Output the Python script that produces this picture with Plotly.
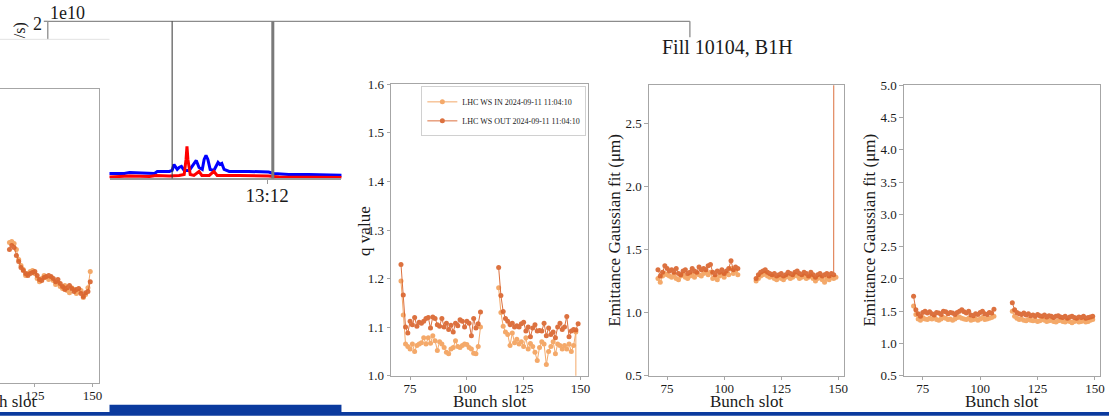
import pandas as pd
import plotly.graph_objects as go

W, H = 1114, 420
FONT = "Liberation Serif"
TXT = "#1a1a1a"
SPINE = "#a6a6a6"
C_IN = "#f3a05a"
C_OUT = "#d9622b"

# ---------------- data ----------------
slots_train1 = list(range(71, 107))
slots_train2 = list(range(114, 150))

q_in_t1 = [1.195, 1.125, 1.065, 1.060, 1.055, 1.065, 1.050, 1.062, 1.065, 1.068, 1.078, 1.065,
           1.078, 1.067, 1.082, 1.072, 1.052, 1.070, 1.065, 1.058, 1.048, 1.045, 1.055, 1.058,
           1.072, 1.060, 1.058, 1.062, 1.065, 1.064, 1.058, 1.055, 1.046, 1.045, 1.060, 1.100]
q_in_t2 = [1.181, 1.130, 1.102, 1.090, 1.085, 1.062, 1.088, 1.068, 1.075, 1.065, 1.070, 1.060,
           1.078, 1.055, 1.066, 1.060, 1.048, 1.031, 1.058, 1.070, 1.065, 1.023, 1.050, 1.060,
           1.070, 1.045, 1.065, 1.062, 1.055, 1.062, 1.055, 1.065, 1.050, 1.062, 1.090, -20.0]
q_out_t1 = [1.229, 1.166, 1.100, 1.088, 1.112, 1.105, 1.120, 1.102, 1.110, 1.108, 1.112, 1.118,
            1.120, 1.098, 1.121, 1.118, 1.105, 1.102, 1.118, 1.100, 1.108, 1.095, 1.104, 1.090,
            1.108, 1.103, 1.115, 1.112, 1.100, 1.112, 1.108, 1.082, 1.118, 1.098, 1.107, 1.131]
q_out_t2 = [1.223, 1.165, 1.132, 1.118, 1.112, 1.105, 1.108, 1.100, 1.103, 1.100, 1.107, 1.110,
            1.092, 1.100, 1.080, 1.098, 1.105, 1.092, 1.093, 1.092, 1.108, 1.082, 1.098, 1.085,
            1.090, 1.078, 1.100, 1.108, 1.095, 1.100, 1.122, 1.080, 1.092, 1.095, 1.094, 1.107]

emit_h_in_t1 = [1.27, 1.24, 1.29, 1.31, 1.30, 1.29, 1.28, 1.30, 1.27, 1.26, 1.29, 1.30,
                1.28, 1.27, 1.29, 1.30, 1.28, 1.31, 1.30, 1.29, 1.31, 1.32, 1.30, 1.32,
                1.27, 1.28, 1.26, 1.29, 1.30, 1.28, 1.31, 1.30, 1.35, 1.31, 1.33, 1.30]
emit_h_in_t2 = [1.25, 1.27, 1.29, 1.30, 1.31, 1.29, 1.28, 1.29, 1.27, 1.26, 1.28, 1.27,
                1.26, 1.28, 1.29, 1.27, 1.28, 1.30, 1.29, 1.27, 1.28, 1.29, 1.27, 1.28,
                1.29, 1.27, 1.25, 1.27, 1.28, 1.26, 1.24, 1.27, 1.26, 1.28, 1.27, 1.28]
emit_h_out_t1 = [1.34, 1.29, 1.32, 1.37, 1.35, 1.33, 1.34, 1.32, 1.35, 1.31, 1.30, 1.33,
                 1.34, 1.31, 1.32, 1.35, 1.33, 1.32, 1.36, 1.34, 1.35, 1.34, 1.37, 1.38,
                 1.32, 1.30, 1.33, 1.32, 1.34, 1.31, 1.33, 1.35, 1.41, 1.34, 1.36, 1.35]
emit_h_out_t2 = [1.27, 1.30, 1.32, 1.33, 1.34, 1.32, 1.31, 1.30, 1.31, 1.29, 1.30, 1.31,
                 1.29, 1.30, 1.32, 1.31, 1.30, 1.32, 1.33, 1.31, 1.30, 1.32, 1.31, 1.29,
                 1.32, 1.30, 1.28, 1.30, 1.31, 1.29, 1.30, 1.31, 1.29, 1.31, 1.30, 60.0]

emit_b_in_t1 = [1.58, 1.45, 1.38, 1.36, 1.40, 1.38, 1.37, 1.39, 1.38, 1.40, 1.37, 1.36,
                1.38, 1.40, 1.39, 1.37, 1.38, 1.36, 1.38, 1.40, 1.41, 1.39, 1.38, 1.37,
                1.39, 1.36, 1.37, 1.38, 1.36, 1.38, 1.40, 1.37, 1.38, 1.39, 1.40, 1.42]
emit_b_in_t2 = [1.50, 1.42, 1.39, 1.37, 1.38, 1.36, 1.35, 1.37, 1.36, 1.35, 1.36, 1.34,
                1.35, 1.37, 1.36, 1.34, 1.35, 1.36, 1.34, 1.33, 1.35, 1.36, 1.34, 1.33,
                1.35, 1.34, 1.32, 1.34, 1.35, 1.33, 1.34, 1.35, 1.33, 1.34, 1.36, 1.37]
emit_b_out_t1 = [1.73, 1.52, 1.46, 1.42, 1.48, 1.50, 1.47, 1.49, 1.46, 1.44, 1.48, 1.47,
                 1.45, 1.50, 1.49, 1.46, 1.48, 1.47, 1.45, 1.48, 1.50, 1.52, 1.49, 1.47,
                 1.50, 1.44, 1.43, 1.46, 1.45, 1.48, 1.50, 1.46, 1.45, 1.48, 1.47, 1.53]
emit_b_out_t2 = [1.63, 1.52, 1.48, 1.46, 1.45, 1.47, 1.44, 1.46, 1.43, 1.44, 1.42, 1.45,
                 1.43, 1.42, 1.44, 1.41, 1.43, 1.42, 1.40, 1.42, 1.43, 1.41, 1.40, 1.42,
                 1.39, 1.41, 1.42, 1.40, 1.39, 1.41, 1.40, 1.42, 1.39, 1.40, 1.41, 1.42]

# left (cropped) panel: only the second train is visible
left_in_t2 = [1.456, 1.462, 1.449, 1.408, 1.340, 1.299, 1.271, 1.230, 1.244, 1.258, 1.265, 1.244,
              1.210, 1.189, 1.210, 1.230, 1.217, 1.203, 1.217, 1.196, 1.169, 1.183, 1.155, 1.142,
              1.162, 1.128, 1.114, 1.148, 1.135, 1.108, 1.121, 1.128, 1.080, 1.101, 1.148, 1.258]
left_out_t2 = [1.408, 1.435, 1.421, 1.367, 1.326, 1.285, 1.265, 1.244, 1.230, 1.244, 1.251, 1.258,
               1.230, 1.203, 1.196, 1.217, 1.224, 1.230, 1.224, 1.210, 1.189, 1.203, 1.176, 1.155,
               1.135, 1.148, 1.162, 1.142, 1.121, 1.135, 1.142, 1.108, 1.087, 1.114, 1.121, 1.189]

# timeline (minutes after 12:38 on 2024-09-11), rate in p/s
t0 = pd.Timestamp("2024-09-11 12:38:00")
blue_min = [-1, 0, 3.2, 4.3, 6.4, 8.6, 9.7, 10.3, 12.9, 13.5, 13.9, 14.6, 15.0, 15.5, 16.1, 17.2,
            18.0, 18.7, 19.3, 20.0, 20.4, 20.8, 21.2, 21.7, 22.5, 23.0, 23.4, 23.8, 24.2, 24.7,
            25.8, 30.0, 34.3, 35.4, 38.6, 42.9, 47.2, 50.0, 51]
blue_val = [6.4e8, 6.4e8, 6.4e8, 7.6e8, 7.0e8, 6.4e8, 6.4e8, 8.9e8, 8.9e8, 1.02e9, 1.78e9, 1.15e9,
            1.40e9, 1.53e9, 1.02e9, 1.02e9, 1.66e9, 2.29e9, 1.40e9, 1.15e9, 2.42e9, 2.93e9, 2.42e9,
            1.15e9, 1.02e9, 1.66e9, 2.04e9, 1.78e9, 1.91e9, 1.15e9, 8.9e8, 8.9e8, 8.3e8, 6.4e8,
            5.1e8, 5.1e8, 4.5e8, 3.8e8, 3.8e8]
red_min = [-1, 0, 4.3, 8.6, 10.1, 12.9, 15.0, 16.1, 16.5, 16.7, 16.9, 17.4, 18.2, 19.3, 19.9,
           21.5, 22.5, 23.2, 27.9, 34.3, 36.5, 42.9, 50.0, 51]
red_val = [1.9e8, 1.9e8, 3.2e8, 2.5e8, 3.8e8, 3.2e8, 3.8e8, 5.1e8, 2.42e9, 4.08e9, 2.42e9, 5.1e8,
           3.8e8, 8.9e8, 3.8e8, 3.8e8, 8.9e8, 3.8e8, 3.8e8, 3.2e8, 1.9e8, 1.3e8, 1.3e8, 1.3e8]
marker_times = ["2024-09-11 12:51:30", "2024-09-11 13:13:12"]
time_range = ["2024-09-11 12:38:00", "2024-09-11 13:28:00"]
time_tick = "2024-09-11 13:12:00"

legend_in = "LHC WS IN 2024-09-11 11:04:10"
legend_out = "LHC WS OUT 2024-09-11 11:04:10"

# ---------------- helpers ----------------
def px(x):
    return x / W

def py(y):
    # target pixel row -> paper fraction (the page is captured with a small vertical border)
    return 1 - (y * 436.0 / 420.0 - 8.0) / H

def join(a, b):
    return a + [None] + b

x_all = join(slots_train1, slots_train2)

fig = go.Figure()

def add_pair(xv, yin, yout, xa, ya, legend=False):
    for yv, name, col in ((yin, legend_in, C_IN), (yout, legend_out, C_OUT)):
        fig.add_trace(go.Scatter(x=xv, y=yv, name=name, showlegend=legend, mode="lines+markers",
                                 xaxis=xa, yaxis=ya, line=dict(color=col, width=1),
                                 marker=dict(color=col, size=5, symbol="circle"),
                                 connectgaps=False, opacity=0.9))

# left cropped panel
add_pair(slots_train2, left_in_t2, left_out_t2, "x", "y")
# timeline
blue_t = [t0 + pd.Timedelta(minutes=m) for m in blue_min]
red_t = [t0 + pd.Timedelta(minutes=m) for m in red_min]
fig.add_trace(go.Scatter(x=blue_t, y=blue_val, mode="lines", line=dict(color="#0000ff", width=3),
                         xaxis="x2", yaxis="y2", showlegend=False))
fig.add_trace(go.Scatter(x=red_t, y=red_val, mode="lines", line=dict(color="#ff0000", width=3),
                         xaxis="x2", yaxis="y2", showlegend=False))
# q value
add_pair(x_all, join(q_in_t1, q_in_t2), join(q_out_t1, q_out_t2), "x3", "y3", legend=True)
# emittance H
add_pair(x_all, join(emit_h_in_t1, emit_h_in_t2), join(emit_h_out_t1, emit_h_out_t2), "x4", "y4")
# emittance (second)
add_pair(x_all, join(emit_b_in_t1, emit_b_in_t2), join(emit_b_out_t1, emit_b_out_t2), "x5", "y5")

tickfont = dict(family=FONT, size=13, color=TXT)
base_ax = dict(showgrid=False, zeroline=False, showline=True, linecolor=SPINE, linewidth=1.2,
               ticks="outside", ticklen=3.5, tickwidth=1, tickcolor=SPINE, tickfont=tickfont)

def panel_axes(n, xdom, ydom, xr, yr, ydtick):
    xa = dict(base_ax, domain=[px(xdom[0]), px(xdom[1])], range=xr, tickvals=[75, 100, 125, 150],
              mirror=True, anchor="y%d" % n, ticklabelstandoff=-3)
    ya = dict(base_ax, domain=[py(ydom[1]), py(ydom[0])], range=yr, dtick=ydtick, tick0=0,
              tickformat=".1f", mirror=True, anchor="x%d" % n)
    return xa, ya

xa3, ya3 = panel_axes(3, (393, 591), (85, 376), [66.7, 153.5], [1.0, 1.6], 0.1)
xa4, ya4 = panel_axes(4, (652, 848), (86, 376), [67.1, 152.6], [0.5, 2.8], 0.5)
xa5, ya5 = panel_axes(5, (908, 1105), (86, 376), [66.8, 152.2], [0.5, 5.0], 0.5)

xa1 = dict(base_ax, domain=[0, px(99)], range=[109.9, 152.6], tickvals=[75, 100, 125, 150],
           mirror=True, anchor="y", ticklabelstandoff=-3)
ya1 = dict(showgrid=False, zeroline=False, showline=True, linecolor=SPINE, linewidth=1.2,
           side="right", showticklabels=False, ticks="", domain=[py(383), py(90)], range=[0.5, 2.5],
           anchor="x")

xa2 = dict(type="date", domain=[px(110), px(343)], range=time_range, showgrid=False, zeroline=False,
           showline=True, linecolor="#9a9a9a", linewidth=1.5, ticks="outside", ticklen=4,
           tickcolor="#9a9a9a", tickvals=[time_tick], ticktext=["13:12"], ticklabelstandoff=-5,
           tickfont=dict(family=FONT, size=19, color=TXT), anchor="y2")
ya2 = dict(domain=[py(179), py(22)], range=[0, 2e10], visible=False, anchor="x2")

fig.update_layout(
    width=W, height=H, margin=dict(l=0, r=0, t=0, b=0),
    paper_bgcolor="white", plot_bgcolor="white",
    font=dict(family=FONT, color=TXT),
    xaxis=xa1, yaxis=ya1, xaxis2=xa2, yaxis2=ya2,
    xaxis3=xa3, yaxis3=ya3, xaxis4=xa4, yaxis4=ya4, xaxis5=xa5, yaxis5=ya5,
    legend=dict(x=px(589), xanchor="right", y=py(87), yanchor="top", bgcolor="white",
                bordercolor="#d0d0d0", borderwidth=1, font=dict(family=FONT, size=8, color=TXT),
                itemwidth=30, tracegroupgap=0),
)

shapes = []
line_c = "#8c8c8c"
def seg(x0, y0, x1, y1, color=line_c, width=1.3):
    shapes.append(dict(type="line", xref="paper", yref="paper", x0=px(x0), x1=px(x1),
                       y0=py(y0), y1=py(y1), line=dict(color=color, width=width)))

# timeline frame pieces visible above the overlapping panels
seg(48, 22, 693, 22)
seg(48, 22, 48, 40)
seg(44, 22, 48, 22)
seg(693, 22, 693, 38)
seg(0, 40, 110, 40, color="#e2e2e2", width=1)
# time markers
shapes.append(dict(type="line", xref="x2", yref="y2 domain", x0=marker_times[0], x1=marker_times[0],
                   y0=0, y1=1, line=dict(color="#333333", width=1)))
shapes.append(dict(type="line", xref="x2", yref="y2 domain", x0=marker_times[1], x1=marker_times[1],
                   y0=0, y1=1, line=dict(color="#7a7a7a", width=3)))
# bottom blue bars
shapes.append(dict(type="rect", xref="paper", yref="paper", x0=0, x1=1, y0=0, y1=py(416),
                   line=dict(width=0), fillcolor="#0b3a9e"))
shapes.append(dict(type="rect", xref="paper", yref="paper", x0=px(110), x1=px(343), y0=0, y1=py(405),
                   line=dict(width=0), fillcolor="#0b3a9e"))
fig.update_layout(shapes=shapes)

ann = []
def text(x, y, s, size, angle=0, xanchor="center"):
    ann.append(dict(x=px(x), y=py(y), xref="paper", yref="paper", text=s, showarrow=False,
                    font=dict(family=FONT, size=size, color=TXT), textangle=angle,
                    xanchor=xanchor, yanchor="middle", borderpad=0))

text(49, 14, "1e10", 18, xanchor="left")
text(43, 25, "2", 18, xanchor="right")
text(20, 31, "/s)", 16, angle=-90)
text(731, 48, "Fill 10104, B1H", 20)
text(-1, 402, "Bunch slot", 17)
text(492, 402, "Bunch slot", 17)
text(750, 402, "Bunch slot", 17)
text(1006, 402, "Bunch slot", 17)
text(366, 231, "q value", 17, angle=-90)
text(617, 231, "Emittance Gaussian fit (μm)", 17, angle=-90)
text(873, 231, "Emittance Gaussian fit (μm)", 17, angle=-90)
fig.update_layout(annotations=ann)

fig.write_html("out.html")
